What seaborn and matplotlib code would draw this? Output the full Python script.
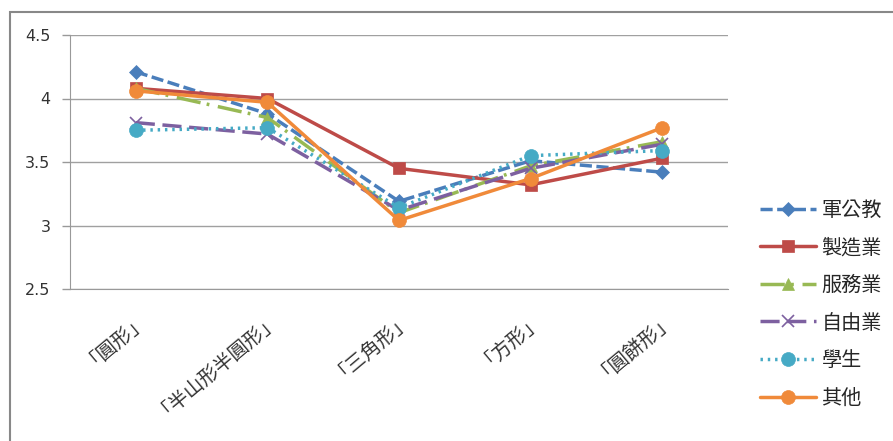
import numpy as np
import pandas as pd
import matplotlib
matplotlib.use("Agg")
import matplotlib.pyplot as plt
import seaborn as sns
from matplotlib.patches import Rectangle

# ----------------- DATA -----------------
categories = ["「圓形」", "「半山形半圓形」", "「三角形」", "「方形」", "「圓餅形」"]
series_names = ["軍公教", "製造業", "服務業", "自由業", "學生", "其他"]
jun_gong_jiao = [4.21, 3.88, 3.19, 3.51, 3.42]
zhi_zao_ye = [4.08, 4.00, 3.45, 3.32, 3.53]
fu_wu_ye = [4.08, 3.85, 3.10, 3.47, 3.66]
zi_you_ye = [3.81, 3.72, 3.12, 3.45, 3.64]
xue_sheng = [3.75, 3.77, 3.14, 3.55, 3.59]
qi_ta = [4.06, 3.97, 3.04, 3.37, 3.77]
y_ticks = [2.5, 3, 3.5, 4, 4.5]
y_tick_labels = ["2.5", "3", "3.5", "4", "4.5"]

values = [jun_gong_jiao, zhi_zao_ye, fu_wu_ye, zi_you_ye, xue_sheng, qi_ta]

# ----------------- STYLE -----------------
colors = ["#4A7EBB", "#BE4B48", "#98B954", "#7D60A0", "#46AAC5", "#F08A3A"]
dashes = [(3.5, 1.3), (), (7, 1.8, 0.8, 2.5), (5.5, 2.2), (0.7, 1.4), ()]
markers = ["D", "s", "^", "x", "o", "o"]
msizes = [7, 9, 9, 9, 10, 10]

sns.set_style("white")
plt.rcParams["font.family"] = ["Noto Sans CJK TC", "DejaVu Sans"]

fig = plt.figure(figsize=(8.93, 4.41), dpi=100)
ax = fig.add_axes([70 / 893, 1 - 289 / 441, (728 - 70) / 893, (289 - 35) / 441])

x_pos = np.arange(len(categories))
for name, vals, c, d, m, ms in zip(series_names, values, colors, dashes, markers, msizes):
    df = pd.DataFrame({"x": x_pos, "y": vals})
    sns.lineplot(data=df, x="x", y="y", ax=ax, color=c, linewidth=2.5,
                 marker=m, markersize=ms, markeredgecolor=c,
                 markeredgewidth=1.2 if m == "x" else 0.5, label=name)
    line = ax.get_lines()[-1]
    if d:
        line.set_dashes(d)

# axes
ax.set_xlim(-0.5, len(categories) - 0.5)
ax.set_ylim(2.5, 4.5)
ax.set_yticks(y_ticks)
ax.set_yticklabels(y_tick_labels, fontsize=11.5, color="#333333", family="DejaVu Sans")
ax.set_xticks(x_pos)
ax.set_xticklabels(categories, rotation=40, ha="right", rotation_mode="anchor",
                   fontsize=14, color="#333333")
ax.set_xticks(np.arange(-0.5, len(categories)), minor=True)
ax.tick_params(axis="x", which="major", length=0, pad=10)
ax.tick_params(axis="x", which="minor", length=5, color="#999999", width=1)
ax.tick_params(axis="y", length=6, color="#999999", width=1, direction="out", left=True, pad=8)
ax.set_xlabel("")
ax.set_ylabel("")
ax.grid(axis="y", color="#A0A0A0", linewidth=1)
ax.set_axisbelow(True)
for s in ["top", "right"]:
    ax.spines[s].set_visible(False)
ax.spines["left"].set_color("#999999")
ax.spines["bottom"].set_color("#999999")

leg = ax.legend(loc="upper left", bbox_to_anchor=(760 / 893, 1 - 200 / 441),
                bbox_transform=fig.transFigure,
                frameon=False, fontsize=14.5, handlelength=2.8, labelspacing=0.82,
                handletextpad=0.25, borderaxespad=0, borderpad=0)

# outer chart frame
fig.patches.append(Rectangle((10 / 893, -0.1), 1.2, 1.1 - 12 / 441, transform=fig.transFigure,
                             fill=False, edgecolor="#888888", linewidth=1.5))

fig.savefig("out.png", dpi=100)
